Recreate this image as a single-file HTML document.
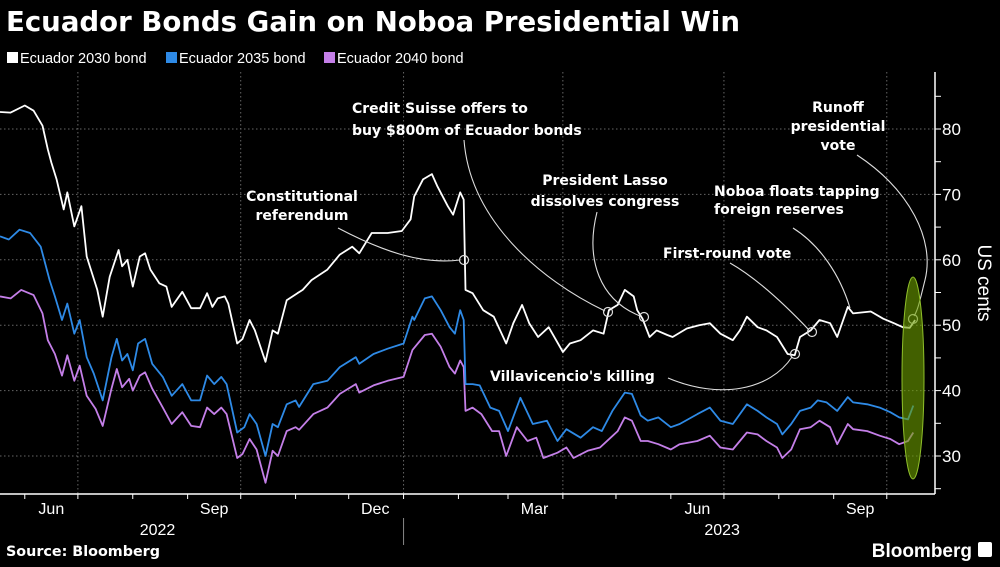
<!DOCTYPE html>
<html><head><meta charset="utf-8"><style>
body{margin:0;background:#000;width:1000px;height:562px;overflow:hidden;font-family:"Liberation Sans",sans-serif}
svg text{font-family:"Liberation Sans",sans-serif}
svg text.b{font-family:"DejaVu Sans","Liberation Sans",sans-serif;font-weight:bold}
</style></head><body>
<svg id="chart" width="1000" height="562">
<text x="6" y="31" fill="#fff" font-size="28" font-weight="bold" textLength="734" lengthAdjust="spacingAndGlyphs" class="b">Ecuador Bonds Gain on Noboa Presidential Win</text>
<g>
<g><rect x="7" y="52" width="11" height="11" fill="#fff"/><text x="20" y="63" fill="#fff" font-size="14.5">Ecuador 2030 bond</text></g>
<g><rect x="166" y="52" width="11" height="11" fill="#2e8ae6"/><text x="179" y="63" fill="#fff" font-size="14.5">Ecuador 2035 bond</text></g>
<g><rect x="324" y="52" width="11" height="11" fill="#c47fe8"/><text x="337" y="63" fill="#fff" font-size="14.5">Ecuador 2040 bond</text></g>
</g>
<g id="grid"></g><g id="axes"></g><g id="series"></g><g id="annot"></g>
<text x="6" y="556" fill="#fff" font-size="14" class="b" textLength="154" lengthAdjust="spacingAndGlyphs">Source: Bloomberg</text>
<text x="972" y="557" fill="#fff" font-size="19" font-weight="bold" text-anchor="end">Bloomberg</text>
<rect x="978" y="542" width="14" height="15" rx="2" fill="#fff"/>
</svg>
<script>
const days2030=[0,6,14,19,24,27,29,32,36,38,42,46,49,55,58,62,67,69,72,75,79,82,85,90,94,97,103,108,113,117,120,123,127,129,134,137,141,144,150,154,157,162,168,171,176,185,192,199,203,210,219,227,232,234,239,244,247,253,256,260,262,263,267,273,279,286,290,295,299,304,310,318,322,328,335,341,344,349,353,358,360,363,367,371,377,380,388,395,401,407,414,418,422,428,433,439,445,449,452,458,463,469,473,479,482,492,499,505,510,514,517];
const vals2030=[82.6,82.5,83.6,82.8,80.5,76.9,74.9,72.3,67.7,70.3,65.1,68.2,60.5,55.4,51.3,57.4,61.5,59,60,55.9,60.5,61,58.5,56.4,55.9,52.8,55.1,52.6,52.6,54.9,52.8,54.1,54.4,53.3,47.2,47.9,50.8,49.2,44.4,49.2,48.7,53.8,54.9,55.4,56.9,58.5,60.8,62,61,64.1,64.1,64.4,66.2,69.7,72.3,73.1,71.3,68.2,66.9,70.3,69.2,55.4,54.9,52.3,51.3,47.2,50.3,53.1,50.3,48.2,49.7,45.9,47.2,47.7,49.2,48.7,52.3,53.1,55.4,54.4,52.3,51,48.2,49.2,48.5,48.2,49.5,50,50.3,48.7,47.7,49.2,51.3,49.7,49.2,48.2,45.6,45.4,48.2,49.2,50.8,50.3,48.2,52.8,51.8,52.1,51,50.3,49.7,49.6,50.8];
const days2035=[0,5,11,17,23,28,31,35,38,42,45,49,53,58,63,66,69,72,75,78,82,86,92,97,103,108,113,117,121,125,128,134,138,141,145,150,154,157,162,167,169,177,185,192,201,203,211,219,228,233,234,240,244,249,254,257,260,262,263,267,271,277,282,287,294,301,309,315,320,328,335,340,346,353,357,362,366,372,379,384,394,401,407,414,422,428,433,439,442,447,452,458,462,467,473,479,482,490,497,503,508,513,516];
const vals2035=[63.6,63.1,64.6,64.1,62,56.9,54.4,50.8,53.3,48.7,50.8,45.1,42.6,38.5,45.1,47.9,44.6,45.6,43.1,47.2,47.9,44.1,42.1,39.2,41,38.5,38.5,42.3,41,42.1,41,33.6,34.4,36.4,34.9,30,34.9,34.4,37.9,38.5,37.5,41,41.5,43.6,45.1,44.1,45.6,46.4,47.2,51.3,50.8,54.1,54.4,52.3,49.7,48.7,52.3,50.8,41,41,40.8,37.4,36.9,33.8,38.9,34.9,35.4,32.3,34.1,32.8,34.4,33.8,36.9,39.7,39.5,36.2,35.4,35.9,34.4,34.9,36.4,37.4,35.4,34.9,37.9,36.9,35.9,34.9,33.3,34.9,36.9,37.4,38.5,38.2,36.9,39,38.2,37.9,37.4,36.7,35.9,35.6,37.7];
const days2040=[0,6,12,19,24,27,31,35,38,42,45,49,54,58,63,66,69,73,75,79,82,86,92,97,103,108,113,117,121,125,128,134,137,141,145,150,154,157,162,167,169,177,185,192,201,203,211,219,228,233,240,244,249,254,257,260,262,263,267,272,278,282,286,292,298,303,307,315,320,324,332,339,345,349,353,357,362,366,372,379,384,394,401,407,414,422,428,433,439,442,447,452,458,463,469,473,479,482,490,497,503,508,513,516];
const vals2040=[54.4,54.1,55.4,54.6,51.8,47.7,45.6,42.3,45.4,41.5,43.8,39.2,37.2,34.6,40.3,43.3,40.5,41.8,40,42.3,42.8,40.3,37.4,34.9,36.7,34.6,34.4,37.4,36.4,37.4,36.4,29.7,30.3,32.6,31,25.9,30.8,30,33.8,34.4,34,36.4,37.4,39.5,41,39.7,40.8,41.5,42.1,46.2,48.5,48.7,46.7,43.6,42.6,44.6,43.6,36.9,37.4,36.4,33.8,33.8,30,34.4,32.3,32.8,29.7,30.5,31.3,29.7,30.8,31.3,32.8,33.8,35.9,35.4,32.3,32.3,31.8,31,31.8,32.3,33.1,31.3,31,33.6,33.3,32.3,31.3,29.7,31,34.1,34.4,35.4,34.4,31.8,34.9,34.1,33.8,33.1,32.6,31.8,32.3,33.6];
const yTicks=[30,40,50,60,70,80];
const monthLabels=["Jun","Sep","Dec","Mar","Jun","Sep"];
const yearLabels=["2022","2023"];
const NS="http://www.w3.org/2000/svg";
const start=Date.UTC(2022,4,18);
const X=d=>d*1.77;
const Y=v=>456-(v-30)*6.54;
const dayOf=(y,m,d)=>(Date.UTC(y,m,d)-start)/864e5;
function mk(tag,attrs,parent,text){const e=document.createElementNS(NS,tag);for(const k in attrs)e.setAttribute(k,attrs[k]);if(text!==undefined)e.textContent=text;document.getElementById(parent).appendChild(e);return e;}
for(const v of yTicks){const l=mk('line',{x1:0,x2:935,y1:Y(v),y2:Y(v),stroke:'#666','stroke-dasharray':'1.5,2.5'},'grid');

}
[[2022,6],[2022,9],[2023,0],[2023,3],[2023,6],[2023,9]].forEach(([y,m])=>{const l=mk('line',{x1:X(dayOf(y,m,1)),x2:X(dayOf(y,m,1)),y1:72,y2:494,stroke:'#666','stroke-dasharray':'1.5,2.5'},'grid');

});
let a=mk('line',{x1:935,x2:935,y1:72,y2:494,stroke:'#fff','stroke-width':1.5},'axes');


a=mk('line',{x1:0,x2:935,y1:494,y2:494,stroke:'#fff','stroke-width':1.5},'axes');


for(let v=25;v<=85;v+=5){if(Y(v)<72||Y(v)>494)continue;mk('line',{x1:935,x2:941,y1:Y(v),y2:Y(v),stroke:'#fff'},'axes');}
for(const v of yTicks){const t=mk('text',{x:942,y:Y(v)+6,fill:'#fff','font-size':17},'axes',String(v));

}
const yt=mk('text',{x:978,y:283,fill:'#fff','font-size':19,'text-anchor':'middle',transform:'rotate(90 978 283)'},'axes','US cents');


for(let i=0;i<17;i++){const y=2022+Math.floor((5+i)/12),m=(5+i)%12;const d=dayOf(y,m,1);if(X(d)>935)break;mk('line',{x1:X(d),x2:X(d),y1:494,y2:499,stroke:'#fff'},'axes');}
[[2022,5],[2022,8],[2022,11],[2023,2],[2023,5],[2023,8]].forEach(([y,m],i)=>{const t=mk('text',{x:X(dayOf(y,m,16)),y:514,fill:'#fff','font-size':16,'text-anchor':'middle'},'axes',monthLabels[i]);

});
[[X(dayOf(2022,7,15))],[X(dayOf(2023,5,30))]].forEach(([x],i)=>{const t=mk('text',{x:x,y:535,fill:'#fff','font-size':16,'text-anchor':'middle'},'axes',yearLabels[i]);

});
mk('line',{x1:X(dayOf(2023,0,1)),x2:X(dayOf(2023,0,1)),y1:518,y2:545,stroke:'#888'},'axes');
function line(days,vals,color,name){const d=days.map((dd,i)=>(i?'L':'M')+X(dd).toFixed(1)+','+Y(vals[i]).toFixed(1)).join('');const p=mk('path',{d:d,fill:'none',stroke:color,'stroke-width':1.8,'stroke-linejoin':'round'},'series');

}
line(days2040,vals2040,'#c47fe8','line-2040-bond');
line(days2035,vals2035,'#2e8ae6','line-2035-bond');
line(days2030,vals2030,'#ffffff','line-2030-bond');
const an=[
 ['M338,228 C380,250 420,265 460,260',[464,260]],
 ['M464,140 C470,220 540,280 605,311',[608,312]],
 ['M597,212 C585,260 600,300 640,316',[644,317]],
 ['M668,378 C720,400 770,390 792,357',[795,354]],
 ['M730,263 C760,280 790,310 809,330',[812,332]],
 ['M793,228 C820,245 840,275 850,308',null],
 ['M857,155 C910,190 935,240 925,280 C920,300 918,310 914,316',[913,319]]];
an.forEach(([d,c])=>{const p=mk('path',{d:d,fill:'none',stroke:'#ddd','stroke-width':1.1},'annot');


if(c){const ci=mk('circle',{cx:c[0],cy:c[1],r:4.5,fill:'none',stroke:'#ddd','stroke-width':1.2},'annot');

}});
const el=mk('ellipse',{cx:913,cy:378,rx:11,ry:101,fill:'rgba(110,160,0,0.6)',stroke:'#8fbf2a','stroke-width':1},'annot');


const labels=[
 [302,[201,220],'middle',['Constitutional','referendum'],'label-referendum'],
 [352,[113,135],'start',['Credit Suisse offers to','buy $800m of Ecuador bonds'],'label-credit-suisse'],
 [605,[185,206],'middle',['President Lasso','dissolves congress'],'label-lasso'],
 [714,[196,214],'start',['Noboa floats tapping','foreign reserves'],'label-noboa-reserves'],
 [663,[258],'start',['First-round vote'],'label-first-round'],
 [490,[381],'start',["Villavicencio's killing"],'label-villavicencio'],
 [838,[112,131,150],'middle',['Runoff','presidential','vote'],'label-runoff']];
labels.forEach(([x,ys,anc,lines,name])=>{lines.forEach((s,i)=>{const t=mk('text',{x:x,y:ys[i],fill:'#fff','font-size':14,'class':'b','text-anchor':anc},'annot',s);

});});
</script>
</body></html>
